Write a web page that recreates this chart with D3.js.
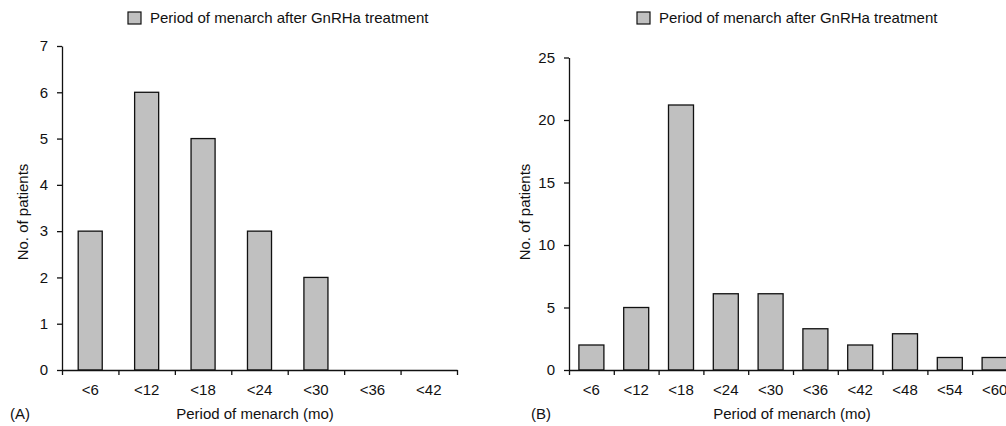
<!DOCTYPE html>
<html>
<head>
<meta charset="utf-8">
<script src="https://cdn.jsdelivr.net/npm/d3@7"></script>
<style>
  body { margin: 0; background: #fff; }
  text { font-family: Arial, "Liberation Sans", sans-serif; fill: #111; }
</style>
</head>
<body>
<div id="chart"></div>
<script>
"use strict";

// Panel A data
var categoriesA = ["<6", "<12", "<18", "<24", "<30", "<36", "<42"];
var valuesA = [3, 6, 5, 3, 2, 0, 0];
var yTicksA = [0, 1, 2, 3, 4, 5, 6, 7];

// Panel B data
var categoriesB = ["<6", "<12", "<18", "<24", "<30", "<36", "<42", "<48", "<54", "<60"];
var valuesB = [2, 5, 21.2, 6.1, 6.1, 3.3, 2, 2.9, 1, 1];
var yTicksB = [0, 5, 10, 15, 20, 25];

var legendLabel = "Period of menarch after GnRHa treatment";
var xTitle = "Period of menarch (mo)";
var yTitle = "No. of patients";

var svg = d3.select("#chart")
            .append("svg")
            .attr("width", 1006)
            .attr("height", 426);

// draws one panel
var drawPanel = function(opt) {
  var g = svg.append("g");

  var rows = opt.categories.map(function(c, i) {
    return { cat: c, val: opt.values[i] };
  });

  var x = d3.scaleBand()
            .domain(opt.categories)
            .range([opt.x0, opt.x1])
            .paddingInner(opt.pad)
            .paddingOuter(opt.pad / 2);

  var y = d3.scaleLinear()
            .domain([0, opt.yMax])
            .range([opt.yBottom, opt.yTop]);

  // bars (zero counts draw nothing)
  g.selectAll("rect.bar")
   .data(rows.filter(function(d) { return d.val > 0; }))
   .enter()
   .append("rect")
   .attr("class", "bar")
   .attr("x", function(d) { return x(d.cat); })
   .attr("y", function(d) { return y(d.val); })
   .attr("width", x.bandwidth())
   .attr("height", function(d) { return opt.yBottom - y(d.val); })
   .attr("fill", "#c0c0c0")
   .attr("stroke", "#111")
   .attr("stroke-width", 1.3);

  // y axis
  var yAxis = d3.axisLeft(y)
                .tickValues(opt.yTicks)
                .tickFormat(d3.format("d"))
                .tickSize(5)
                .tickSizeOuter(0)
                .tickPadding(9);
  var ya = g.append("g")
            .attr("transform", "translate(" + opt.x0 + ",0)")
            .call(yAxis);
  ya.selectAll("text").style("font-size", "15px");

  // x axis: ticks sit on the category boundaries
  var xEdge = d3.scaleLinear()
                .domain([0, opt.categories.length])
                .range([opt.x0, opt.x1]);
  g.append("g")
   .attr("transform", "translate(0," + opt.yBottom + ")")
   .call(d3.axisBottom(xEdge)
           .ticks(opt.categories.length)
           .tickSize(5)
           .tickSizeOuter(0)
           .tickFormat(""));

  // x axis: category labels
  var xl = g.append("g")
            .attr("transform", "translate(0," + opt.yBottom + ")")
            .call(d3.axisBottom(x).tickSize(0).tickPadding(14));
  xl.select(".domain").remove();
  xl.selectAll("text").style("font-size", "15px");

  g.selectAll(".domain, .tick line")
   .attr("stroke", "#111")
   .attr("stroke-width", 1.3);

  // legend
  g.append("rect")
   .attr("x", opt.legendX)
   .attr("y", 12)
   .attr("width", 13)
   .attr("height", 12)
   .attr("fill", "#c0c0c0")
   .attr("stroke", "#111")
   .attr("stroke-width", 1.2);
  g.append("text")
   .attr("x", opt.legendX + 22)
   .attr("y", 23)
   .style("font-size", "15px")
   .text(legendLabel);

  // titles
  g.append("text")
   .attr("x", opt.titleX)
   .attr("y", 419)
   .attr("text-anchor", "middle")
   .style("font-size", "15px")
   .text(xTitle);
  g.append("text")
   .attr("transform", "translate(" + opt.yTitleX + ",212) rotate(-90)")
   .attr("text-anchor", "middle")
   .style("font-size", "15px")
   .text(yTitle);
  g.append("text")
   .attr("x", opt.panelX)
   .attr("y", 419)
   .style("font-size", "15px")
   .text(opt.panel);
};

drawPanel({
  categories: categoriesA, values: valuesA, yTicks: yTicksA, yMax: 7,
  x0: 62, x1: 457, yTop: 46, yBottom: 370, pad: 0.574,
  legendX: 128, titleX: 255, yTitleX: 28, panelX: 10, panel: "(A)"
});

drawPanel({
  categories: categoriesB, values: valuesB, yTicks: yTicksB, yMax: 25,
  x0: 569, x1: 1017, yTop: 57.5, yBottom: 370, pad: 0.442,
  legendX: 637, titleX: 792, yTitleX: 530, panelX: 531, panel: "(B)"
});
</script>
</body>
</html>
